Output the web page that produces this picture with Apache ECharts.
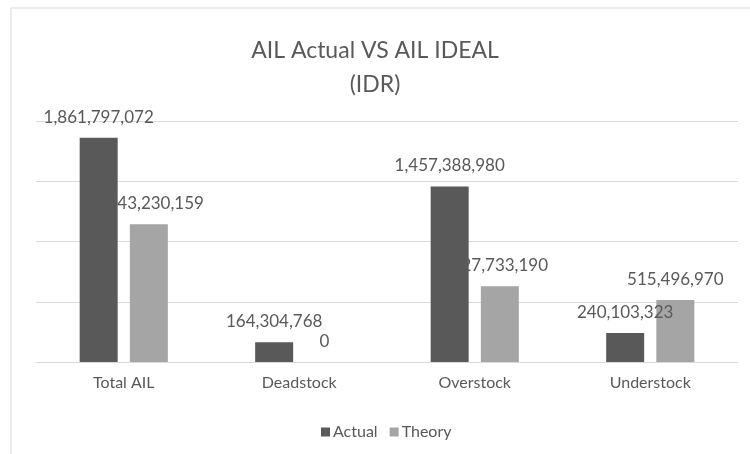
<!DOCTYPE html>
<html><head><meta charset="utf-8">
<script src="https://cdn.jsdelivr.net/npm/echarts@6/dist/echarts.min.js"></script>
<style>html,body{margin:0;padding:0;background:#fff}#c{width:750px;height:454px}</style>
</head><body><div id="c"></div>
<script>
const categories = ['Total AIL', 'Deadstock', 'Overstock', 'Understock'];
const actualValues = [1861797072, 164304768, 1457388980, 240103323];
const theoryValues = [1143230159, 0, 627733190, 515496970];
const seriesNames = ['Actual', 'Theory'];

const FONT = 'Lato';
const fmt = v => v.toLocaleString('en-US');
const chart = echarts.init(document.getElementById('c'));
chart.setOption({
  animation: false,
  backgroundColor: '#fff',
  textStyle: { fontFamily: FONT },
  graphic: [
    { type: 'rect', shape: { x: 11, y: 8, width: 760, height: 460 }, style: { fill: 'none', stroke: '#d9d9d9', lineWidth: 1 }, silent: true }
  ],
  title: {
    text: 'AIL Actual VS AIL IDEAL\n(IDR)',
    left: 'center', top: 29,
    textStyle: { fontFamily: FONT, fontSize: 23, fontWeight: 'normal', color: '#595959', lineHeight: 34 }
  },
  legend: {
    data: seriesNames, left: 316, top: 419, itemWidth: 9, itemHeight: 9, itemGap: 12,
    icon: 'rect',
    textStyle: { fontFamily: FONT, fontSize: 16, color: '#595959', padding: [0, 0, 0, -2] }
  },
  grid: { left: 36, right: 12, top: 121, bottom: 92, containLabel: false },
  xAxis: {
    type: 'category', data: categories,
    axisLine: { lineStyle: { color: '#d9d9d9' } },
    axisTick: { show: false },
    axisLabel: { fontFamily: FONT, fontSize: 16, color: '#595959', margin: 13 }
  },
  yAxis: {
    type: 'value', min: 0, max: 2000000000, interval: 500000000,
    axisLabel: { show: false }, axisLine: { show: false }, axisTick: { show: false },
    splitLine: { lineStyle: { color: '#d9d9d9' } }
  },
  series: [
    { name: seriesNames[0], type: 'bar', data: actualValues, barWidth: 38, barGap: '32%',
      itemStyle: { color: '#595959' },
      label: { show: true, position: 'top', distance: 12, formatter: p => fmt(p.value), fontFamily: FONT, fontSize: 17, color: '#595959' } },
    { name: seriesNames[1], type: 'bar', data: theoryValues, barWidth: 38,
      itemStyle: { color: '#a5a5a5' },
      label: { show: true, position: 'top', distance: 12, formatter: p => fmt(p.value), fontFamily: FONT, fontSize: 17, color: '#595959' } }
  ]
});
</script></body></html>
